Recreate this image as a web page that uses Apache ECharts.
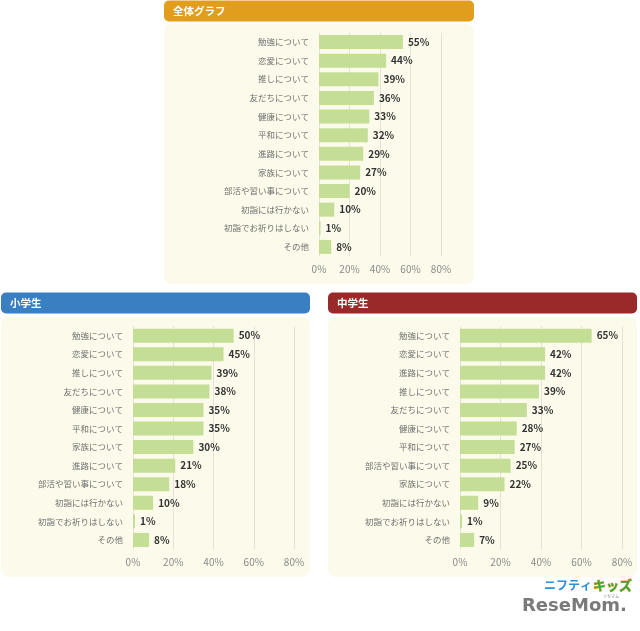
<!DOCTYPE html>
<html><head><meta charset="utf-8">
<script src="https://cdn.jsdelivr.net/npm/echarts@6/dist/echarts.min.js"></script>
<style>html,body{margin:0;padding:0;background:#fff;}#c{width:640px;height:631px;}</style>
</head><body><div id="c"></div>
<script>
const titleAll = '全体グラフ';
const titleElem = '小学生';
const titleJr = '中学生';
const categoriesAll = ['勉強について','恋愛について','推しについて','友だちについて','健康について','平和について','進路について','家族について','部活や習い事について','初詣には行かない','初詣でお祈りはしない','その他'];
const valuesAll = [55,44,39,36,33,32,29,27,20,10,1,8];
const categoriesElem = ['勉強について','恋愛について','推しについて','友だちについて','健康について','平和について','家族について','進路について','部活や習い事について','初詣には行かない','初詣でお祈りはしない','その他'];
const valuesElem = [50,45,39,38,35,35,30,21,18,10,1,8];
const categoriesJr = ['勉強について','恋愛について','進路について','推しについて','友だちについて','健康について','平和について','部活や習い事について','家族について','初詣には行かない','初詣でお祈りはしない','その他'];
const valuesJr = [65,42,42,39,33,28,27,25,22,9,1,7];
const axisMax = 80;
const axisStep = 20;

const FONT = '"Noto Sans CJK JP","Noto Sans",sans-serif';
const chart = echarts.init(document.getElementById('c'), null, {renderer:'canvas'});

function xAx(gi){
  return {gridIndex:gi,type:'value',min:0,max:axisMax,interval:axisStep,
    axisLine:{show:false},axisTick:{show:false},
    splitLine:{show:true,lineStyle:{color:'#e4e2d6',width:1}},
    axisLabel:{formatter:'{value}%',color:'#8a8a8a',fontSize:10,fontFamily:FONT,margin:8}};
}
function yAx(gi,cats){
  return {gridIndex:gi,type:'category',data:cats,inverse:true,
    axisLine:{show:false},axisTick:{show:false},
    axisLabel:{color:'#707070',fontSize:8.5,fontFamily:FONT,margin:10}};
}
function ser(gi,vals){
  return {type:'bar',xAxisIndex:gi,yAxisIndex:gi,data:vals,barWidth:14,
    itemStyle:{color:'#c4de95'},
    label:{show:true,position:'right',distance:5,formatter:'{c}%',color:'#333',fontWeight:'bold',fontSize:10,fontFamily:FONT}};
}
function panel(x,y,w,h,hy,color,title){
  return [
    {type:'rect',z:-10,shape:{x:x,y:y,width:w,height:h,r:8},style:{fill:'#fcfaea'}},
    {type:'rect',z:-9,shape:{x:x,y:hy,width:w,height:21,r:5},style:{fill:color}},
    {type:'text',z:-8,x:x+9,y:hy+10.5,style:{text:title,fill:'#fff',font:'bold 10.5px '+FONT,textVerticalAlign:'middle'}}
  ];
}
const graphics = [].concat(
  panel(164,24,310,260,0.5,'#e19d1c',titleAll),
  panel(1,317,309,260,292.5,'#3a7fc2',titleElem),
  panel(328,317,309,260,292.5,'#9a2a2a',titleJr),
  [
    {type:'text',x:544,y:585,style:{text:'ニフティ',fill:'#2f8fd9',font:'bold 12px '+FONT,textVerticalAlign:'middle'}},
    {type:'text',x:593,y:585,style:{text:'キッズ',fill:'#3aa543',stroke:'#f0a020',lineWidth:0.8,font:'bold 13px '+FONT,textVerticalAlign:'middle'}},
    {type:'text',x:603,y:594,style:{text:'リセマム',fill:'#888',font:'4px '+FONT}},
    {type:'text',x:522,y:597,style:{text:'ReseMom.',fill:'#7a7a7a',font:'bold 18px "DejaVu Sans",sans-serif'}}
  ]
);
chart.setOption({
  animation:false,
  backgroundColor:'#fff',
  grid:[
    {left:319,top:32.7,width:122,height:223.5},
    {left:133,top:326.4,width:161,height:222.8},
    {left:460,top:326.4,width:162,height:222.8}
  ],
  xAxis:[xAx(0),xAx(1),xAx(2)],
  yAxis:[yAx(0,categoriesAll),yAx(1,categoriesElem),yAx(2,categoriesJr)],
  series:[ser(0,valuesAll),ser(1,valuesElem),ser(2,valuesJr)],
  graphic:graphics
});
</script></body></html>
